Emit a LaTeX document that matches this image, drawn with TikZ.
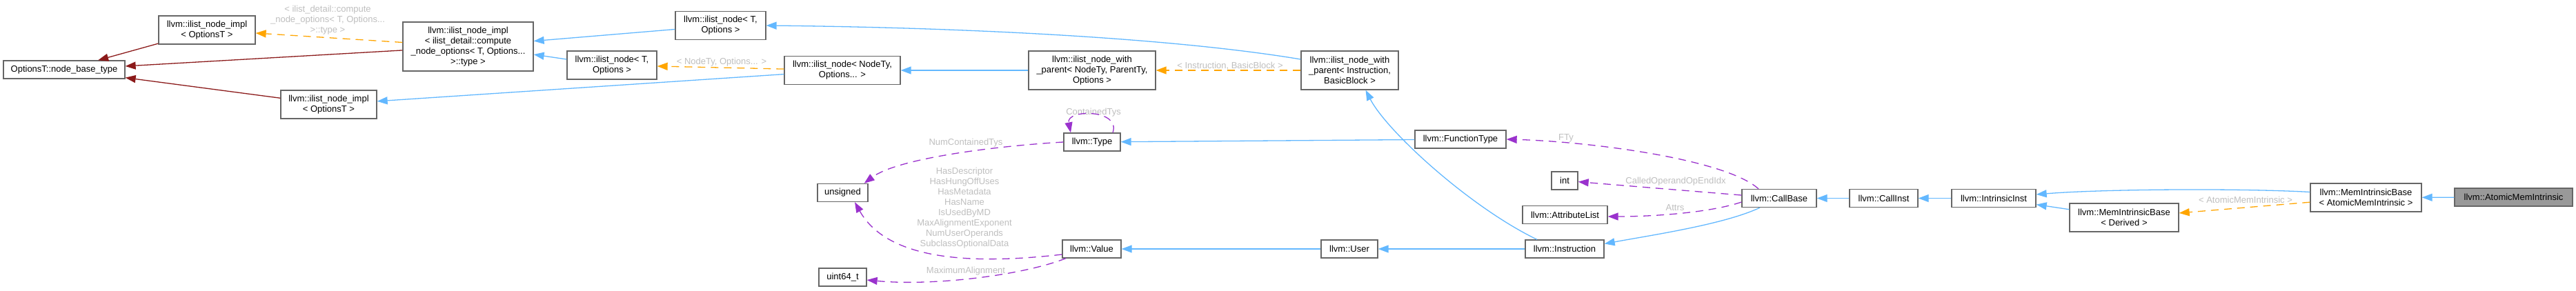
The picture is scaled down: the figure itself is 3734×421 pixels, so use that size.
\documentclass[tikz,border=0pt]{standalone}
\usepackage{fontspec}
\setmainfont{Liberation Sans}
\usepackage{tikz}
\usetikzlibrary{arrows.meta}
\definecolor{azulher}{HTML}{63B8FF}
\definecolor{rojopriv}{HTML}{8B1A1A}
\definecolor{naranja}{HTML}{FFA500}
\definecolor{morado}{HTML}{9A32CD}
\definecolor{gristexto}{HTML}{BEBEBE}
\definecolor{borde}{HTML}{666666}
\definecolor{foco}{HTML}{999999}
\tikzset{
  caja/.style={draw=borde,fill=white,line width=1.3pt,inner sep=0pt,align=center,font=\fontsize{13}{15}\selectfont,text=black},
  cajafoco/.style={caja,fill=foco},
  una/.style={minimum height=26pt},
  dos/.style={minimum height=41pt},
  tres/.style={minimum height=56pt},
  etiqueta/.style={inner sep=0pt,align=center,font=\fontsize{13}{15}\selectfont,text=gristexto},
  punta/.style={-{Triangle[length=15pt,width=11pt]}},
  herencia/.style={punta,draw=azulher,line width=1.3pt},
  privada/.style={punta,draw=rojopriv,line width=1.3pt},
  plantilla/.style={punta,draw=naranja,line width=1.3pt,dash pattern=on 11pt off 8pt},
  uso/.style={punta,draw=morado,line width=1.3pt,dash pattern=on 11pt off 8pt},
}

\begin{document}
\begin{tikzpicture}[x=1pt,y=-1pt]
  \useasboundingbox (0,0) rectangle (3734,421);
  % cajas
  \node[caja,una,minimum width=176pt] (base) at (93,101) {OptionsT::node\_base\_type};
  \node[caja,dos,minimum width=140pt] (implA) at (300,43.5) {llvm::ilist\_node\_impl\\< OptionsT >};
  \node[caja,dos,minimum width=139pt] (implB) at (476.5,151.5) {llvm::ilist\_node\_impl\\< OptionsT >};
  \node[caja,minimum height=71pt,minimum width=189pt] (implC) at (678.5,67.5) {llvm::ilist\_node\_impl\\< ilist\_detail::compute\\\_node\_options< T, Options...\\>::type >};
  \node[caja,dos,minimum width=131pt] (nodeA) at (1044.5,37) {llvm::ilist\_node< T,\\Options >};
  \node[caja,dos,minimum width=130pt] (nodeB) at (887,94.5) {llvm::ilist\_node< T,\\Options >};
  \node[caja,dos,minimum width=168pt] (nodeC) at (1221,102) {llvm::ilist\_node< NodeTy,\\Options... >};
  \node[caja,tres,minimum width=184pt] (parentA) at (1583,102) {llvm::ilist\_node\_with\\\_parent< NodeTy, ParentTy,\\Options >};
  \node[caja,tres,minimum width=141pt] (parentB) at (1956.5,102) {llvm::ilist\_node\_with\\\_parent< Instruction,\\BasicBlock >};
  \node[caja,una,minimum width=82pt] (type) at (1583,206) {llvm::Type};
  \node[caja,una,minimum width=132pt] (functype) at (2117,202) {llvm::FunctionType};
  \node[caja,una,minimum width=73pt] (unsigned) at (1221.5,279.5) {unsigned};
  \node[caja,una,minimum width=69pt] (uint) at (1221.5,402) {uint64\_t};
  \node[caja,una,minimum width=85pt] (value) at (1582.5,361) {llvm::Value};
  \node[caja,una,minimum width=82pt] (user) at (1956,361) {llvm::User};
  \node[caja,una,minimum width=114pt] (instr) at (2268,361) {llvm::Instruction};
  \node[caja,una,minimum width=38pt] (int) at (2268,262) {int};
  \node[caja,una,minimum width=123pt] (attr) at (2268.5,311.5) {llvm::AttributeList};
  \node[caja,una,minimum width=108pt] (callbase) at (2579,287.5) {llvm::CallBase};
  \node[caja,una,minimum width=99pt] (callinst) at (2730.5,287.5) {llvm::CallInst};
  \node[caja,una,minimum width=122pt] (intrinsic) at (2890,287.5) {llvm::IntrinsicInst};
  \node[caja,dos,minimum width=158pt] (memDer) at (3079,315.5) {llvm::MemIntrinsicBase\\< Derived >};
  \node[caja,dos,minimum width=161pt] (memAtom) at (3429.5,286.5) {llvm::MemIntrinsicBase\\< AtomicMemIntrinsic >};
  \node[cajafoco,una,minimum width=171pt] (atomic) at (3643.5,286) {llvm::AtomicMemIntrinsic};
  % etiquetas
  \node[etiqueta] (etqDetalle) at (475,29) {< ilist\_detail::compute\\\_node\_options< T, Options...\\>::type >};
  \node[etiqueta] (etqNodo) at (1046,90) {< NodeTy, Options... >};
  \node[etiqueta] (etqPadre) at (1783,96) {< Instruction, BasicBlock >};
  \node[etiqueta] (etqAtom) at (3255,290) {< AtomicMemIntrinsic >};
  \node[etiqueta] (etqCont) at (1585,163) {ContainedTys};
  \node[etiqueta] (etqNum) at (1400,207) {NumContainedTys};
  \node[etiqueta] (etqVal) at (1398,301.5) {HasDescriptor\\HasHungOffUses\\HasMetadata\\HasName\\IsUsedByMD\\MaxAlignmentExponent\\NumUserOperands\\SubclassOptionalData};
  \node[etiqueta] (etqMax) at (1400,393) {MaximumAlignment};
  \node[etiqueta] (etqFTy) at (2270,200) {FTy};
  \node[etiqueta] (etqIdx) at (2429,263) {CalledOperandOpEndIdx};
  \node[etiqueta] (etqAttrs) at (2428,301) {Attrs};
  % herencia privada
  \draw[privada] (implA) -- (base);
  \draw[privada] (implC) -- (base);
  \draw[privada] (implB) -- (base);
  % plantillas
  \draw[plantilla] (implC) -- (implA);
  \draw[plantilla] (nodeC) -- (nodeB);
  \draw[plantilla] (parentB) -- (parentA);
  \draw[plantilla] (memAtom) -- (memDer);
  % herencia publica
  \draw[herencia] (nodeA) -- (implC);
  \draw[herencia] ([yshift=8.5pt]nodeB.west) -- ([yshift=-11.5pt]implC.east);
  \draw[herencia] (nodeC) -- (implB);
  \draw[herencia] (parentA) -- (nodeC);
  \draw[herencia] ([yshift=16pt]parentB.west) .. controls (1700,55) and (1400,40) .. (nodeA.east);
  \draw[herencia] (functype) -- (type);
  \draw[herencia] (user) -- (value);
  \draw[herencia] (instr) -- (user);
  \draw[herencia] ([xshift=-40pt]instr.north) .. controls (2130,300) and (2010,190) .. ([xshift=23pt]parentB.south);
  \draw[herencia] ([xshift=-28pt]callbase.south) .. controls (2500,325) and (2400,340) .. ([yshift=7.5pt]instr.east);
  \draw[herencia] (callinst) -- (callbase);
  \draw[herencia] (intrinsic) -- (callinst);
  \draw[herencia] (memDer) -- (intrinsic);
  \draw[herencia] ([yshift=8pt]memAtom.west) .. controls (3250,273) and (3050,274) .. ([yshift=5.5pt]intrinsic.east);
  \draw[herencia] (atomic) -- (memAtom);
  % uso
  \draw[uso] ([xshift=30pt]type.north) .. controls (1625,158) and (1545,158) .. ([xshift=-31pt]type.north);
  \draw[uso] (type.west) .. controls (1440,212) and (1300,230) .. ([xshift=-6pt]unsigned.north east);
  \draw[uso] ([yshift=-8pt]value.west) .. controls (1400,385) and (1285,375) .. ([xshift=17.5pt]unsigned.south);
  \draw[uso] ([xshift=-37.5pt]value.south) .. controls (1480,400) and (1350,415) .. ([yshift=-4pt]uint.east);
  \draw[uso] ([xshift=-30pt]callbase.north) .. controls (2500,230) and (2300,205) .. (functype.east);
  \draw[uso] (callbase) -- (int);
  \draw[uso] ([yshift=-5.5pt]callbase.west) .. controls (2480,308) and (2400,314) .. ([yshift=-2.5pt]attr.east);
\end{tikzpicture}
\end{document}
